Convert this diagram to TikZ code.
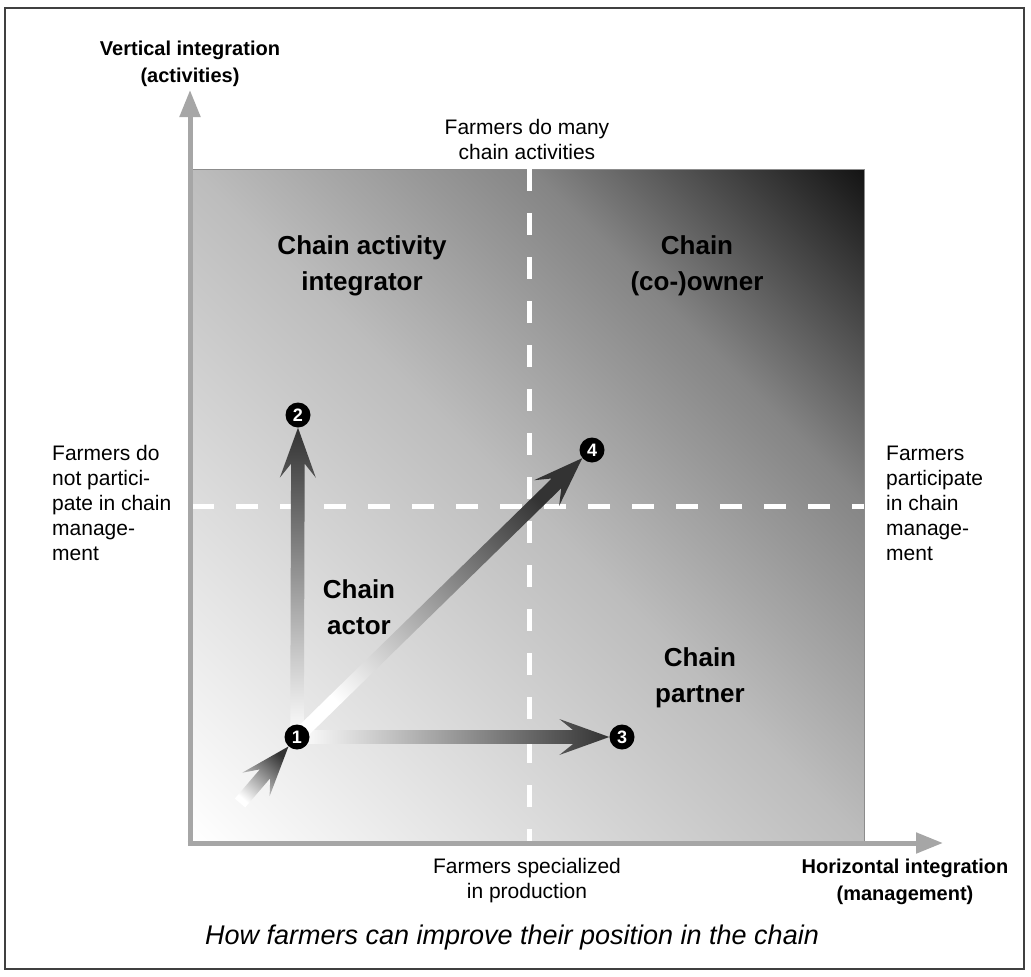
\documentclass[tikz,border=0pt]{standalone}
\usepackage{fontspec}
\setmainfont{Liberation Sans}
\usetikzlibrary{calc,arrows.meta}

% diagonal fill of the quadrant square: white at bottom left, near black at top right
\pgfdeclarehorizontalshading{quadfill}{100bp}{color(0bp)=(white); color(14.64bp)=(white); color(50bp)=(black!26); color(68bp)=(black!48); color(85.36bp)=(black!92); color(100bp)=(black!92)}
% fill of the development arrows: white at the tail, dark at the head
\pgfdeclarehorizontalshading{arrowfade}{100bp}{color(0bp)=(white); color(25bp)=(white); color(75bp)=(black!80); color(100bp)=(black!80)}

\pgfdeclarelayer{back}
\pgfdeclarelayer{arrowlayer}
\pgfsetlayers{back,arrowlayer,main}

% shaded block arrow from #1 to the tip #2, fill rotated by #3 degrees
\newcommand\blockarrow[3]{%
  \path ($(#2)!36pt!(#1)$) coordinate (hi) ($(#2)!50pt!(#1)$) coordinate (hb);
  \shade[shading=arrowfade, shading angle=#3]
    ($(#1)!6.8pt!90:(#2)$) -- ($(hi)!6.8pt!90:(#2)$) -- ($(hb)!18pt!90:(#2)$) -- (#2)
    -- ($(hb)!18pt!-90:(#2)$) -- ($(hi)!6.8pt!-90:(#2)$) -- ($(#1)!6.8pt!-90:(#2)$) -- cycle;
}

\tikzset{
  axisline/.style={line width=5pt, draw=black!35, -{Triangle[width=20pt,length=27pt]}},
  divider/.style={line width=5pt, draw=white, dash pattern=on 22pt off 22pt},
  stage/.style={circle, fill=black, inner sep=0pt, minimum size=25pt, text=white,
    font=\fontsize{18}{18}\selectfont\bfseries},
  note/.style={inner sep=0pt, font=\fontsize{21}{25}\selectfont},
  axislabel/.style={inner sep=0pt, align=center, font=\fontsize{20}{27}\selectfont\bfseries},
  quadlabel/.style={inner sep=0pt, align=center, font=\fontsize{26}{36}\selectfont\bfseries},
}

\begin{document}
\begin{tikzpicture}[x=1pt, y=-1pt]
\useasboundingbox (0,0) rectangle (1031,977);

% frame
\draw[line width=1.5pt, black!75] (5,8) rectangle (1024,969);

% key points
\coordinate (origin) at (190,843);
\coordinate (ytip) at (190,90);
\coordinate (xtip) at (943,843);
\coordinate (tail) at (240,803);

% stages
\node[stage] (n1) at (297,737) {1};
\node[stage] (n2) at (298,415) {2};
\node[stage] (n3) at (622,737) {3};
\node[stage] (n4) at (592,450) {4};

\begin{pgfonlayer}{back}
  \shade[shading=quadfill, shading angle=45] (192,169) rectangle (864,843);
  \draw[line width=0.8pt, black!45] (192,169.4) -- (864,169.4) -- (864,843);
  \draw[divider] (529,169) -- (529,843);
  \draw[divider] (192,506) -- (864,506);
  \draw[axisline] (190,845.5) -- (ytip);
  \draw[axisline] (187.5,843) -- (xtip);
\end{pgfonlayer}

\begin{pgfonlayer}{arrowlayer}
  \blockarrow{n1.center}{n2.south}{90}
  \blockarrow{n1.center}{n3.west}{0}
  \blockarrow{n1.center}{n4.220}{45}
  \blockarrow{tail}{n1.228}{49}
\end{pgfonlayer}

% axis labels
\node[axislabel] (ylab) at (190,64) {Vertical integration\\(activities)};
\node[axislabel] (xlab) at (905,882) {Horizontal integration\\(management)};

% edge notes
\node[note, align=center] (top) at (527,139) {Farmers do many\\chain activities};
\node[note, align=center] (bottom) at (527,881) {Farmers specialized\\in production};
\node[note, align=left, anchor=west] (left) at (52,503) {Farmers do\\not partici-\\pate in chain\\manage-\\ment};
\node[note, align=left, anchor=west] (right) at (886,503) {Farmers\\participate\\in chain\\manage-\\ment};

% quadrant names
\node[quadlabel] (q1) at (362,266) {Chain activity\\integrator};
\node[quadlabel] (q2) at (697,266) {Chain\\(co-)owner};
\node[quadlabel] (q3) at (359,607) {Chain\\actor};
\node[quadlabel] (q4) at (700,678) {Chain\\partner};

% caption
\node[inner sep=0pt, font=\fontsize{27}{30}\selectfont\itshape] (cap) at (512,938)
  {How farmers can improve their position in the chain};
\end{tikzpicture}
\end{document}
